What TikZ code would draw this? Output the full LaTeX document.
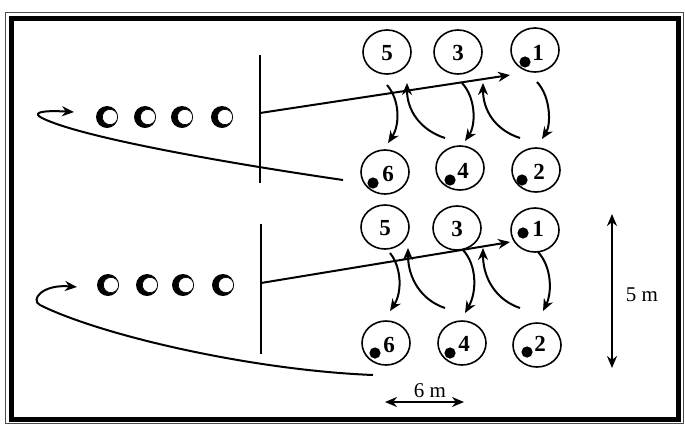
\documentclass[tikz,border=0pt]{standalone}
\usepackage{fontspec}
\setmainfont{Liberation Serif}
\usetikzlibrary{arrows.meta,shapes.geometric,calc}
\begin{document}
\begin{tikzpicture}[x=0.5pt,y=-0.5pt,
  player/.style={draw,ellipse,line width=0.8pt,minimum width=24pt,minimum height=22pt,inner sep=0pt},
  num/.style={font=\fontsize{11.5}{12}\selectfont\bfseries,inner sep=0pt},
  ball/.style={circle,fill=black,minimum size=5.6pt,inner sep=0pt},
  conebase/.style={circle,fill=black,minimum size=11pt,inner sep=0pt},
  conetop/.style={circle,fill=white,draw=black,line width=0.3pt,minimum size=7.6pt,inner sep=0pt},
  run/.style={line width=1pt,-{Stealth[length=6pt,width=5pt]}},
  barrier/.style={line width=1.3pt},
  dim/.style={line width=1pt,{Stealth[length=6pt,width=5pt]}-{Stealth[length=6pt,width=5pt]}},
  lbl/.style={font=\fontsize{10.5}{12}\selectfont,inner sep=0pt}]

\useasboundingbox (0,0) rectangle (685,424);
\fill[white] (0,0) rectangle (685,424);
\draw[line width=0.5pt,black!70] (5,12) rectangle (683,423);
\draw[line width=2.5pt] (11,18) rectangle (678,419);

% ---------- group A (top) ----------
\node[player] (a5) at (387,52) {};
\node[player] (a3) at (458,52) {};
\node[player] (a1) at (535,50) {};
\node[player] (a6) at (385,172) {};
\node[player] (a4) at (460,168) {};
\node[player] (a2) at (536,170) {};
\node[num] (a5t) at (387,53) {5};
\node[num] (a3t) at (458,53) {3};
\node[num] (a1t) at (538,53) {1};
\node[num] (a6t) at (388,174) {6};
\node[num] (a4t) at (463,171) {4};
\node[num] (a2t) at (539,172) {2};
\node[ball] (a1b) at (525,62) {};
\node[ball] (a6b) at (373,183) {};
\node[ball] (a4b) at (450,180) {};
\node[ball] (a2b) at (522,180) {};

\foreach \i/\x in {1/107,2/145,3/182,4/222}{
  \node[conebase] (ac\i) at (\x,117) {};
  \node[conetop] (ac\i w) at (\x+3,117) {};
}
\coordinate (abt) at (260,55);
\coordinate (abb) at (260,183);
\draw[barrier] (abt) -- (abb);
\coordinate (aB) at (260,113);
\coordinate (a1in) at (510,75);
\draw[run] (aB) -- (a1in);
\coordinate (a6out) at (343,180);
\coordinate (aret) at (74,112);
\draw[run] (a6out) .. controls (220,162) and (80,137) .. (42,118)
  .. controls (32,113) and (40,110) .. (aret);

\draw[run] (387,85) .. controls (400,100) and (400,125) .. (388,143);
\draw[run] (445,138) .. controls (420,130) and (407,110) .. (407,83);
\draw[run] (462,83) .. controls (476,98) and (476,125) .. (465,141);
\draw[run] (520,138) .. controls (495,130) and (483,110) .. (483,83);
\draw[run] (537,82) .. controls (551,97) and (551,125) .. (542,139);

% ---------- group B (bottom) ----------
\node[player] (b5) at (385,227) {};
\node[player] (b3) at (457,228) {};
\node[player] (b1) at (535,230) {};
\node[player] (b6) at (386,343) {};
\node[player] (b4) at (462,343) {};
\node[player] (b2) at (537,345) {};
\node[num] (b5t) at (385,228) {5};
\node[num] (b3t) at (457,229) {3};
\node[num] (b1t) at (538,229) {1};
\node[num] (b6t) at (389,345) {6};
\node[num] (b4t) at (464,344) {4};
\node[num] (b2t) at (540,344) {2};
\node[ball] (b1b) at (523,233) {};
\node[ball] (b6b) at (375,353) {};
\node[ball] (b4b) at (450,353) {};
\node[ball] (b2b) at (527,352) {};

\foreach \i/\x in {1/108,2/147,3/183,4/223}{
  \node[conebase] (bc\i) at (\x,285) {};
  \node[conetop] (bc\i w) at (\x+3,285) {};
}
\coordinate (bbt) at (261,224);
\coordinate (bbb) at (261,354);
\draw[barrier] (bbt) -- (bbb);
\coordinate (bB) at (261,283);
\coordinate (b1in) at (510,242);
\draw[run] (bB) -- (b1in);
\coordinate (b6out) at (373,375);
\coordinate (bret) at (77,287);
\draw[run] (b6out) .. controls (250,370) and (100,335) .. (40,305)
  .. controls (30,300) and (42,284) .. (bret);

\draw[run] (390,253) .. controls (402,268) and (402,293) .. (390,311);
\draw[run] (445,308) .. controls (421,300) and (408,278) .. (408,248);
\draw[run] (463,250) .. controls (477,265) and (477,292) .. (465,313);
\draw[run] (520,308) .. controls (496,300) and (483,278) .. (483,248);
\draw[run] (538,252) .. controls (552,267) and (552,293) .. (543,311);

% ---------- dimensions ----------
\coordinate (d5a) at (612,214);
\coordinate (d5b) at (612,368);
\draw[dim] (d5a) -- (d5b);
\node[lbl] (d5l) at (642,295) {5 m};
\coordinate (d6a) at (385,402);
\coordinate (d6b) at (464,402);
\draw[dim] (d6a) -- (d6b);
\node[lbl] (d6l) at (430,391) {6 m};
\end{tikzpicture}
\end{document}
